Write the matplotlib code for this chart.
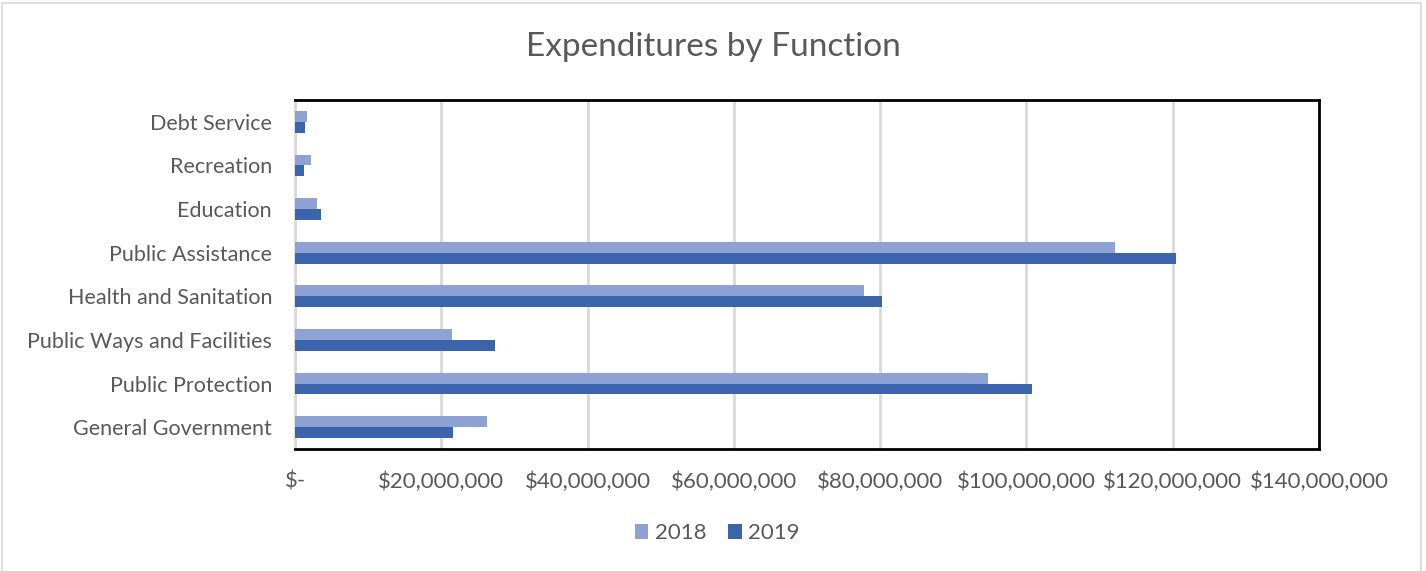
import numpy as np
import matplotlib.pyplot as plt
from matplotlib.ticker import FuncFormatter
from matplotlib.patches import Rectangle

categories = ['General Government', 'Public Protection', 'Public Ways and Facilities',
              'Health and Sanitation', 'Public Assistance', 'Education', 'Recreation',
              'Debt Service']
y2018 = [26.3e6, 94.7e6, 21.4e6, 77.8e6, 112.1e6, 3.05e6, 2.15e6, 1.6e6]
y2019 = [21.6e6, 100.7e6, 27.4e6, 80.2e6, 120.5e6, 3.56e6, 1.23e6, 1.41e6]
xticks = [0, 20e6, 40e6, 60e6, 80e6, 100e6, 120e6, 140e6]

c18 = '#8FA2D4'
c19 = '#3B64AD'
grey = '#595959'

plt.rcParams['font.family'] = ['Lato', 'DejaVu Sans']

fig = plt.figure(figsize=(14.26, 5.71), dpi=100)
ax = fig.add_axes([0.2069, 0.2137, 0.925 - 0.2069, 0.8249 - 0.2137])

pos = np.arange(len(categories))
h = 0.25
ax.barh(pos + h / 2, y2018, height=h, color=c18, label='2018', zorder=3)
ax.barh(pos - h / 2, y2019, height=h, color=c19, label='2019', zorder=3)

ax.set_xlim(0, 140e6)
ax.set_ylim(-0.5, len(categories) - 0.5)
ax.set_xticks(xticks)
ax.xaxis.set_major_formatter(FuncFormatter(lambda v, p: '$-' if v == 0 else '${:,.0f}'.format(v)))
ax.set_yticks(pos)
ax.set_yticklabels(categories)
ax.tick_params(axis='y', length=0, labelsize=15.5, labelcolor=grey, pad=16.5)
ax.tick_params(axis='x', length=0, labelsize=16, labelcolor=grey, pad=16)
ax.grid(axis='x', color='#D9D9D9', linewidth=2, zorder=0)

for s in ['top', 'right', 'bottom']:
    ax.spines[s].set_color('black')
    ax.spines[s].set_linewidth(2)
ax.spines['left'].set_color('#D9D9D9')
ax.spines['left'].set_linewidth(2)

fig.text(0.5, 0.917, 'Expenditures by Function', ha='center', va='center',
         fontsize=24, color=grey)

leg = fig.legend(loc='center', bbox_to_anchor=(0.503, 0.066), ncol=2, frameon=False,
                 fontsize=16, handlelength=0.6, handleheight=0.6, columnspacing=1.0,
                 handletextpad=0.3)
for t in leg.get_texts():
    t.set_color(grey)

fig.patches.append(Rectangle((0.0015, -0.01), 0.995, 1.005, transform=fig.transFigure,
                             fill=False, edgecolor='#D9D9D9', linewidth=1.2))

fig.savefig('out.png', dpi=100)
